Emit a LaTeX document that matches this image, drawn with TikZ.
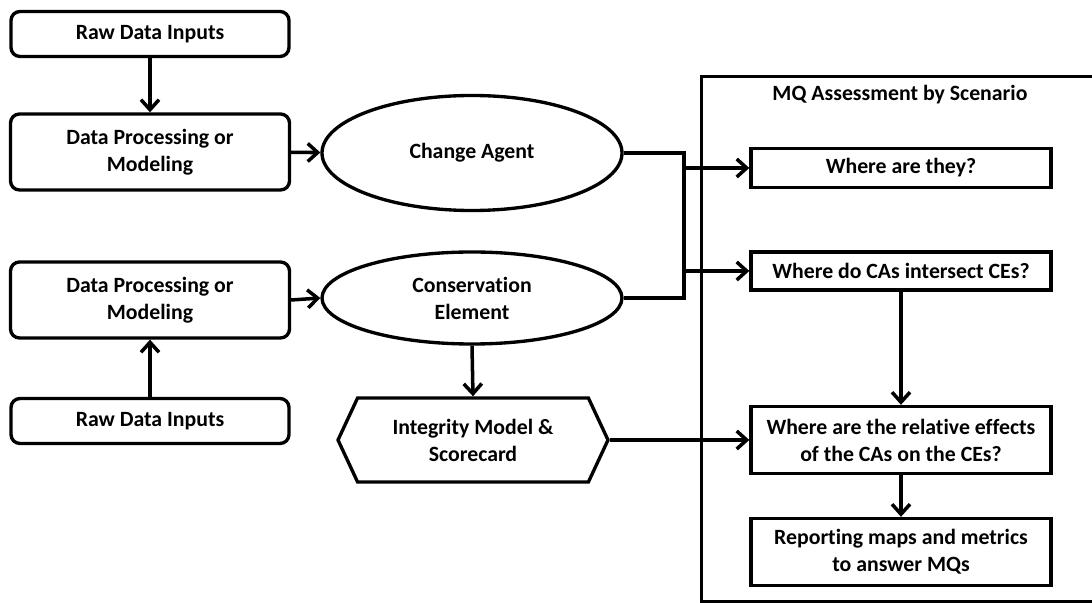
\documentclass[tikz,border=0pt]{standalone}
\usepackage{fontspec}
\setmainfont{Carlito}[Ligatures=NoCommon]
\usetikzlibrary{arrows.meta,positioning,shapes.geometric,shapes.symbols}
\definecolor{ink}{RGB}{0,0,0}
\tikzset{
  every picture/.style={color=ink, line width=1.9pt, font=\fontsize{12.4}{15.4}\selectfont\bfseries},
  box/.style={draw=ink, fill=white, inner sep=2pt, align=center},
  rawbox/.style={box, rounded corners=1.8mm, minimum width=55.6mm, minimum height=9mm},
  procbox/.style={box, rounded corners=1.8mm, minimum width=55.8mm, minimum height=15.2mm},
  agent/.style={box, ellipse, inner sep=0pt, minimum width=60mm},
  hexa/.style={box, signal, signal to=west and east, signal pointer angle=130, minimum width=54mm, minimum height=16.8mm},
  qbox/.style={box, minimum width=60mm},
  frame/.style={draw=ink, anchor=north west, minimum width=82mm, minimum height=105mm, inner sep=0pt},
  title/.style={inner sep=1pt},
  flow/.style={-{Straight Barb[length=2mm,width=3.6mm]}, line width=2pt},
  link/.style={line join=miter, line width=2pt},
}

\begin{document}
\begin{tikzpicture}[x=0.2mm, y=-0.2mm]
  \useasboundingbox (0,0) rectangle (1092,603);
  % left column
  \node[rawbox] (raw1) at (150,34) {Raw Data Inputs};
  \node[procbox] (proc1) at (150,152) {Data Processing or\\Modeling};
  \node[procbox] (proc2) at (150,300) {Data Processing or\\Modeling};
  \node[rawbox] (raw2) at (150,421) {Raw Data Inputs};
  % middle column
  \node[agent, minimum height=23mm] (ca) at (472,153) {Change Agent};
  \node[agent, minimum height=18.4mm] (ce) at (472,298) {Conservation\\Element};
  \node[hexa] (im) at (473,440) {Integrity Model \&\\Scorecard};
  % MQ frame
  \node[frame] (mq) at (700,75) {};
  \node[title] (mqt) at (900,95) {MQ Assessment by Scenario};
  \node[qbox, minimum height=7.8mm] (q1) at (901,168) {Where are they?};
  \node[qbox, minimum height=7.6mm] (q2) at (901,271) {Where do CAs intersect CEs?};
  \node[qbox, minimum height=13.4mm] (q3) at (901,440) {Where are the relative effects\\of the CAs on the CEs?};
  \node[qbox, minimum height=13.4mm] (q4) at (901,552) {Reporting maps and metrics\\to answer MQs};
  \coordinate (bus) at (684,0);
  % connectors
  \draw[flow] (raw1) -- (proc1);
  \draw[flow] (raw2) -- (proc2);
  \draw[flow] (proc1) -- (ca);
  \draw[flow] (proc2.east) -- (ce.west);
  \draw[link] (ca.east) -- (ca.east -| bus) -- (ce.east -| bus) -- (ce.east);
  \draw[flow] (bus |- q1.west) -- (q1.west);
  \draw[flow] (bus |- q2.west) -- (q2.west);
  \draw[flow] (ce.south) -- (im.north);
  \draw[flow] (im.east) -- (q3.west);
  \draw[flow] (q2) -- (q3);
  \draw[flow] (q3) -- (q4);
\end{tikzpicture}
\end{document}
